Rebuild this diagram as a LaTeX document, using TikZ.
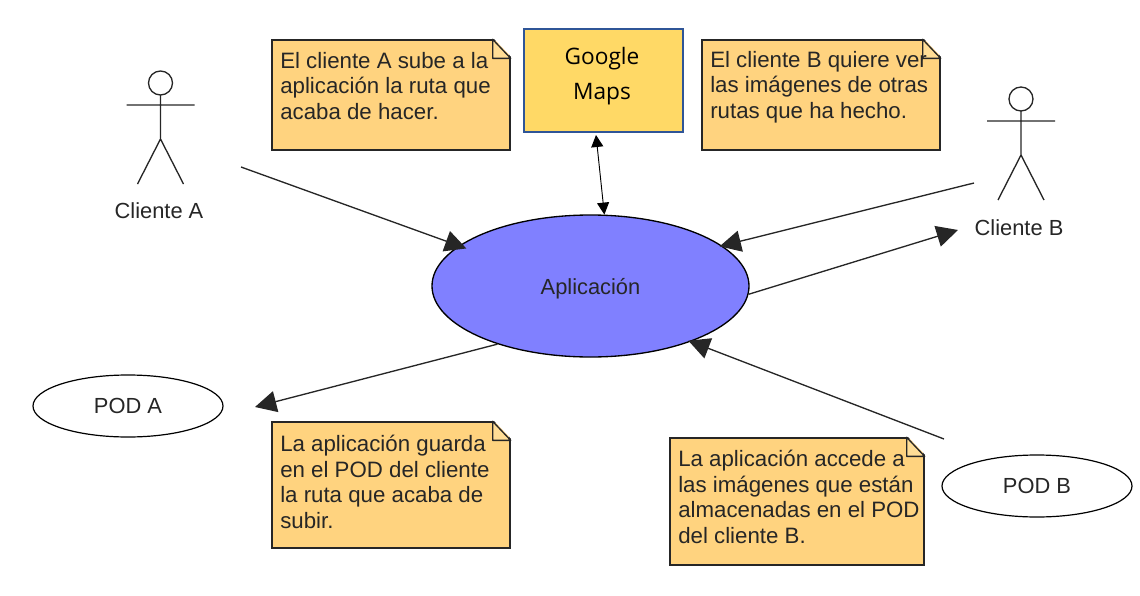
\documentclass[tikz,border=0pt]{standalone}
\usepackage{fontspec}
\setmainfont{Liberation Sans}
\newfontfamily\mapsfont{Open Sans}
\usetikzlibrary{shapes.geometric,arrows.meta,calc}
\definecolor{notefill}{HTML}{FFD37F}
\definecolor{foldfill}{HTML}{FFDD96}
\definecolor{appfill}{HTML}{8080FF}
\definecolor{mapsfill}{HTML}{FFD966}
\definecolor{mapsline}{HTML}{2F5597}
\tikzset{
  notebox/.style={draw=black!85,line width=1pt,fill=notefill,inner sep=0pt},
  notetext/.style={anchor=north west,inner sep=0pt,align=left,text=black!85,
    font=\fontsize{16.7}{19.1}\selectfont},
  podnode/.style={draw=black,line width=0.9pt,fill=white,ellipse,inner sep=0pt,text=black!85,
    minimum width=142.5pt,minimum height=46.5pt,font=\fontsize{16.4}{19}\selectfont},
  actorname/.style={inner sep=0pt,text=black!85,font=\fontsize{16.4}{19}\selectfont},
  flow/.style={draw=black!85,line width=1pt,-{Triangle[length=16pt,width=16pt]}},
  mapsflow/.style={draw=black,line width=0.7pt,{Triangle[length=9pt,width=9pt]}-{Triangle[length=9pt,width=9pt]}},
  actor/.pic={
    \draw[line width=1pt,black!85] (0,0) circle (12);
    \draw[line width=1pt,black!85] (0,-12) -- (0,-56) (-34,-22) -- (34,-22) (-23,-101) -- (0,-56) -- (23,-101);
  }
}
\newcommand{\notefold}[1]{
  \fill[white] ($(#1.north east)+(-18,-2)$) -- ($(#1.north east)+(2,-2)$) -- ($(#1.north east)+(2,19)$) -- cycle;
  \filldraw[draw=black!85,fill=foldfill,line width=1pt,line join=round] ($(#1.north east)+(-18,0)$) -- ($(#1.north east)+(-18,19)$) -- ($(#1.north east)+(0,19)$) -- cycle;
}
\begin{document}
\begin{tikzpicture}[x=0.75pt,y=0.75pt,yscale=-1,xscale=1]
\useasboundingbox (0,0) rectangle (1140,596);

% central use case
\node[draw=black,line width=1pt,fill=appfill,ellipse,inner sep=0pt,minimum width=237.75pt,minimum height=106.5pt,text=black!85,text height=16.5pt,font=\fontsize{16.4}{19}\selectfont] (app) at (590.5,286) {Aplicación};

% google maps
\node[draw=mapsline,line width=1.2pt,fill=mapsfill,inner sep=0pt,minimum width=119.25pt,minimum height=77.25pt] (maps) at (603.5,80.5) {};
\node[inner sep=0pt,align=center,text=black,font=\mapsfont\fontsize{17}{26.3}\selectfont] (mapsText) at (602,76) {Google\\Maps};

% pods
\node[podnode] (podA) at (128,406) {POD A};
\node[podnode] (podB) at (1037,486) {POD B};

% actors
\pic at (160.5,83) {actor};
\node[actorname] (nameA) at (159,211) {Cliente A};
\pic at (1021,99) {actor};
\node[actorname] (nameB) at (1019,228) {Cliente B};

% notes
\node[notebox,minimum width=178.5pt,minimum height=82.5pt] (noteA) at (391,95) {};
\notefold{noteA}
\node[notetext] (textA) at (280,52) {El cliente A sube a la\\aplicación la ruta que\\acaba de hacer.};
\node[notebox,minimum width=178.5pt,minimum height=82.5pt] (noteB) at (821,95) {};
\notefold{noteB}
\node[notetext] (textB) at (710,51) {El cliente B quiere ver\\las imágenes de otras\\rutas que ha hecho.};
\node[notebox,minimum width=178.5pt,minimum height=94.5pt] (noteC) at (391,485) {};
\notefold{noteC}
\node[notetext] (textC) at (280,435) {La aplicación guarda\\en el POD del cliente\\la ruta que acaba de\\subir.};
\node[notebox,minimum width=190.5pt,minimum height=95.25pt] (noteD) at (797,501.5) {};
\notefold{noteD}
\node[notetext] (textD) at (678,450) {La aplicación accede a\\las imágenes que están\\almacenadas en el POD\\del cliente B.};

% free ends of the arrows
\coordinate (fromA) at (241,167);
\coordinate (fromB) at (974,183);
\coordinate (toB) at (958,230);
\coordinate (toPodA) at (255,407);
\coordinate (fromPodB) at (944,439);
\coordinate (mapsEnd) at (596,135);

\draw[flow,shorten >=-6pt] (fromA) -- (app.163);
\draw[flow,shorten >=-2pt] (fromB) -- (app.17);
\draw[flow] (app.357) -- (toB);
\draw[flow] (app.212) -- (toPodA);
\draw[flow,shorten >=-2pt] (fromPodB) -- (app.331);
\draw[mapsflow] (mapsEnd) -- (app.79);
\end{tikzpicture}
\end{document}
